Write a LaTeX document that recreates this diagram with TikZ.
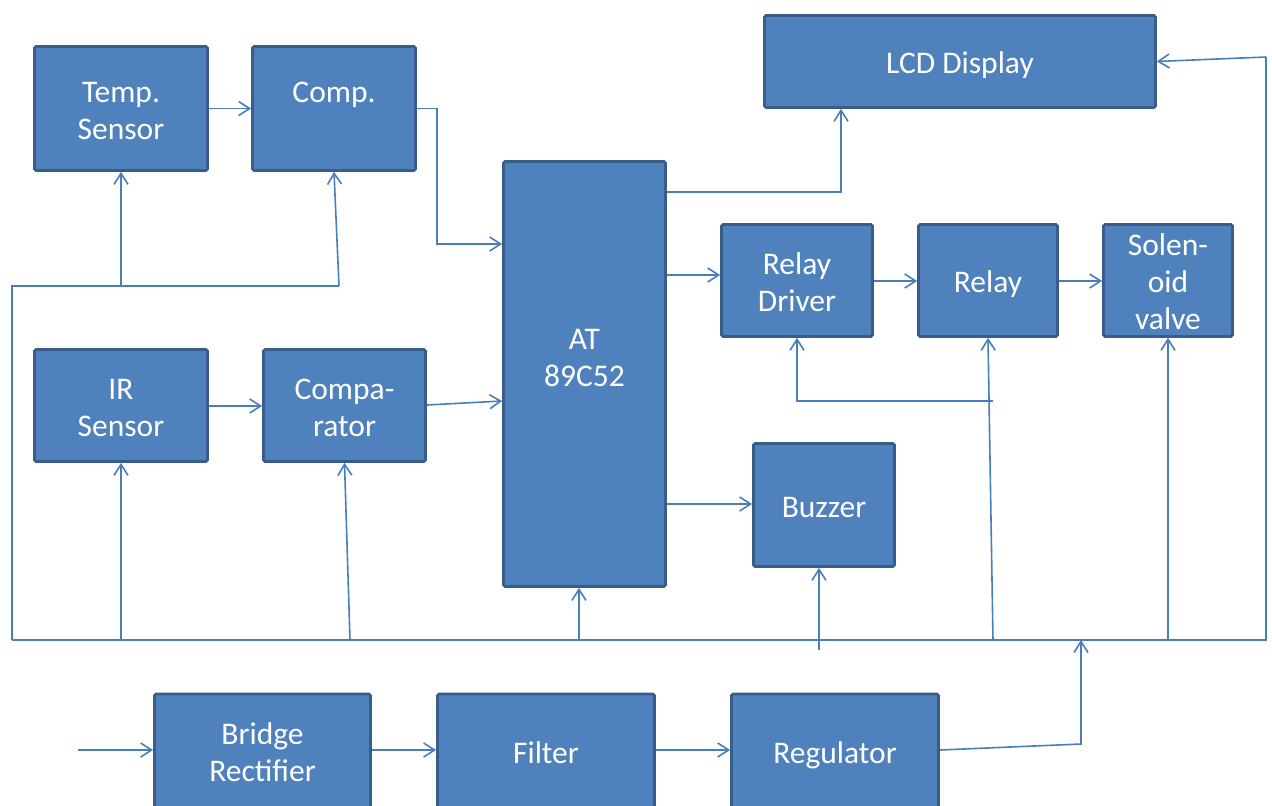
\documentclass[tikz,border=0pt]{standalone}
\usepackage{fontspec}
\setmainfont{Carlito}
\usetikzlibrary{arrows.meta}
\definecolor{boxfill}{HTML}{4F81BD}
\definecolor{boxline}{HTML}{385D8A}
\definecolor{wirec}{HTML}{4A7EBB}
\newcommand\blktext[1]{\raisebox{0pt}[\height][\dimexpr\depth-10pt\relax]{\begin{tabular}{@{}c@{}}#1\end{tabular}}}
\begin{document}
\begin{tikzpicture}[x=1pt,y=-1pt,
  blk/.style={draw=boxline, fill=boxfill, line width=2.7pt, rounded corners=1.5pt,
    text=white, font=\fontsize{31.5}{37}\selectfont, inner sep=0pt},
  wire/.style={draw=wirec, line width=1.6pt},
  arr/.style={wire, -{Straight Barb[length=11pt,width=14pt]}}]
\useasboundingbox (0,0) rectangle (1272,806);
\clip (0,0) rectangle (1272,806);
% blocks
\node[blk, minimum width=173, minimum height=124] (temp) at (121,108.5) {\blktext{Temp.\\Sensor}};
\node[blk, minimum width=163, minimum height=124] (comp) at (334,108.5) {\blktext{Comp.\\\mbox{}}};
\node[blk, minimum width=391, minimum height=92] (lcd) at (960,61.5) {\blktext{LCD Display}};
\node[blk, minimum width=162, minimum height=425] (mcu) at (584.5,374) {\blktext{AT\\89C52\\\mbox{}}};
\node[blk, minimum width=151, minimum height=112] (rd) at (797,280.5) {\blktext{Relay\\Driver}};
\node[blk, minimum width=139, minimum height=112] (rel) at (988,280.5) {\blktext{Relay}};
\node[blk, minimum width=129, minimum height=112] (sol) at (1168,280.5) {\blktext{Solen-\\oid\\valve}};
\node[blk, minimum width=173, minimum height=112] (ir) at (121,405.5) {\blktext{IR\\Sensor}};
\node[blk, minimum width=162, minimum height=112] (cmp) at (344.5,405.5) {\blktext{Compa-\\rator}};
\node[blk, minimum width=141, minimum height=123] (buz) at (824,505) {\blktext{Buzzer}};
\node[blk, minimum width=216, minimum height=114] (br) at (262.5,751) {\blktext{Bridge\\Rectifier}};
\node[blk, minimum width=217, minimum height=114] (fil) at (546,751) {\blktext{Filter}};
\node[blk, minimum width=207, minimum height=114] (reg) at (835,751) {\blktext{Regulator}};
% junction coordinates
\coordinate (bl) at (12,640);
\coordinate (bR) at (1266,640);
\coordinate (tl) at (12,286);
\coordinate (tr) at (339,286);
\coordinate (tm) at (121,286);
\coordinate (rt) at (1266,57);
\coordinate (inp) at (78,750);
% signal connectors
\draw[arr] (temp) -- (comp);
\draw[arr] (comp.east) -- (437,108.5) -- (437,244) -- (mcu.west |- 0,244);
\draw[arr] (mcu.east |- 0,192) -| (lcd.south -| 841,0);
\draw[arr] (mcu.east |- 0,275) -- (rd.west |- 0,275);
\draw[arr] (mcu.east |- 0,504) -- (buz.west |- 0,504);
\draw[arr] (rd.east |- 0,281) -- (rel.west |- 0,281);
\draw[arr] (rel.east |- 0,281) -- (sol.west |- 0,281);
\draw[arr] (ir.east |- 0,406) -- (cmp.west |- 0,406);
\draw[arr] (cmp.east |- 0,405) -- (mcu.west |- 0,401);
% power distribution
\draw[wire] (bl) -- (tl) -- (tr);
\draw[arr] (tr) -- (comp.south);
\draw[arr] (tm) -- (temp.south);
\draw[wire] (bl) -- (bR) -- (rt);
\draw[arr] (rt) -- (lcd.east);
\draw[arr] (121,640) -- (ir.south);
\draw[arr] (350,640) -- (cmp.south);
\draw[arr] (579,640) -- (mcu.south -| 579,0);
\draw[arr] (819,650) -- (buz.south -| 819,0);
\draw[arr] (993,640) -- (rel.south);
\draw[arr] (1168,640) -- (sol.south);
\draw[arr] (993,401) -- (797,401) -- (rd.south);
\draw[arr] (reg.east |- 0,750) -- (1081,744) -- (1081,640);
% power supply chain
\draw[arr] (inp) -- (br.west |- 0,750);
\draw[arr] (br.east |- 0,750) -- (fil.west |- 0,750);
\draw[arr] (fil.east |- 0,750) -- (reg.west |- 0,750);
\end{tikzpicture}
\end{document}
